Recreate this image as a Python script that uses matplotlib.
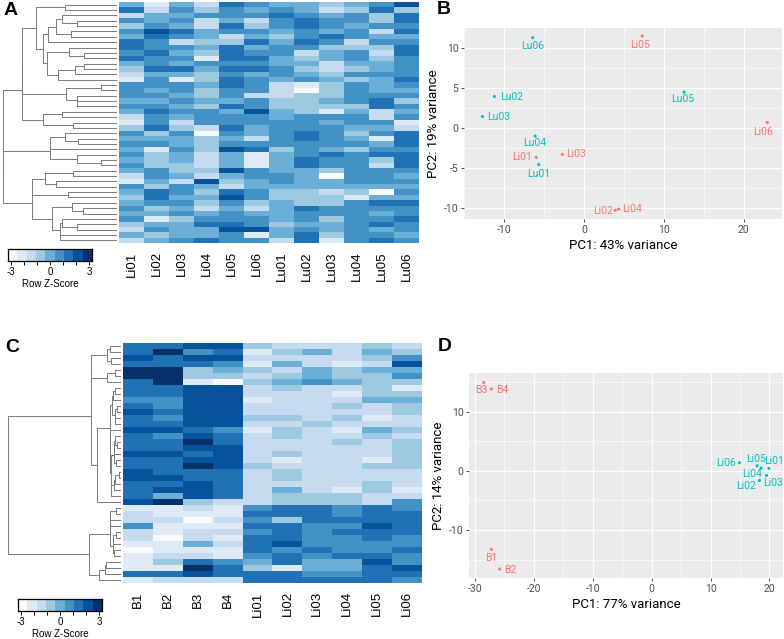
import numpy as np
import matplotlib.pyplot as plt
from matplotlib.colors import ListedColormap

plt.rcParams['axes.unicode_minus'] = False

W, H = 784, 639

blues = ['#F7FBFF', '#DEEBF7', '#C6DBEF', '#9ECAE1', '#6BAED6',
         '#4292C6', '#2171B5', '#08519C', '#08306B']

# heatmap A: one string per row, one digit per sample (0 = -3 ... 8 = +3)
a_samples = ['Li01', 'Li02', 'Li03', 'Li04', 'Li05', 'Li06',
             'Lu01', 'Lu02', 'Lu03', 'Lu04', 'Lu05', 'Lu06']
a_rows = [
    "414265443457", "625354542363", "244555654536", "545242565536",
    "354263565455", "576455454526", "465424356544", "652336465255",
    "655464553336", "564365524526", "655166434535", "454555442445",
    "366466532345", "244354543555", "151365454346", "555465213545",
    "545355203544", "554352233555", "445445334563", "554365333365",
    "465547431424", "254555455525", "152555554551", "363264555442",
    "535054565356", "444342565416", "554355555546", "415376354355",
    "534241456566", "434241465536", "533241465526", "453375443555",
    "254245540554", "142734544555", "535424444444", "465365332305",
    "364475333144", "455353433566", "534242465555", "445454455545",
    "513555453556", "344665344565", "254477454545", "434451463554",
    "245655261565",
]

# heatmap C
c_samples = ['B1', 'B2', 'B3', 'B4', 'Li01', 'Li02', 'Li03', 'Li04', 'Li05', 'Li06']
c_rows = [
    "6677322232", "6856134243", "7677222235", "6665142127", "8834324344",
    "8833234335", "6810345433", "6677232231", "6677222133", "5577122244",
    "6577222323", "7677222223", "6577332312", "6677223222", "7765132143",
    "6576232232", "6686222323", "6677222223", "7767232223", "6677212213",
    "6687322233", "7666232222", "7766232222", "6676222232", "6776242131",
    "6476233322", "7832233325", "1121566565", "2111666566", "2202536666",
    "5111665576", "2122565666", "2021665565", "1142675555", "0111656556",
    "1221565665", "1365464475", "1186314467", "6676665566", "1222666665",
]

# PCA B
b_labels = ['Li01', 'Li02', 'Li03', 'Li04', 'Li05', 'Li06',
            'Lu01', 'Lu02', 'Lu03', 'Lu04', 'Lu05', 'Lu06']
b_pc1 = [-5.96, 3.95, -2.7, 4.36, 7.3, 22.96, -5.64, -11.2, -12.7, -6.1, 12.55, -6.4]
b_pc2 = [-3.7, -10.3, -3.33, -10.16, 11.46, 0.67, -4.6, 3.9, 1.4, -1.04, 4.46, 11.25]
b_group = ['Li'] * 6 + ['Lu'] * 6

# PCA D
d_labels = ['B1', 'B2', 'B3', 'B4', 'Li01', 'Li02', 'Li03', 'Li04', 'Li05', 'Li06']
d_pc1 = [-27.2, -25.8, -28.5, -27.2, 19.9, 18.3, 19.5, 18.6, 17.9, 14.9]
d_pc2 = [-13.3, -16.6, 14.9, 13.8, 0.39, -1.64, -0.8, 0.45, 0.84, 1.35]
d_group = ['B'] * 4 + ['Li'] * 6

# label placement (pixels: right, down)
b_offsets = {
    'Li01': (-4.4, 0, 'right'), 'Li02': (-3, 1, 'right'), 'Li03': (4, 0, 'left'),
    'Li04': (3, 0, 'left'), 'Li05': (-2, 8.7, 'center'), 'Li06': (-4, 10, 'center'),
    'Lu01': (0, 9.3, 'center'), 'Lu02': (6, 0, 'left'), 'Lu03': (5, 0, 'left'),
    'Lu04': (0, 7.3, 'center'), 'Lu05': (-1, 7.3, 'center'), 'Lu06': (0, 8.3, 'center'),
}
d_offsets = {
    'B1': (0, 8, 'center'), 'B2': (4.3, 0.6, 'left'), 'B3': (-2, 7.7, 'center'),
    'B4': (4.3, 1, 'left'), 'Li01': (-4.5, -7, 'left'), 'Li02': (-13.3, 5.7, 'center'),
    'Li03': (-3, 7.3, 'left'), 'Li04': (-9.6, 6, 'center'), 'Li05': (-1.3, -6.7, 'center'),
    'Li06': (-3.3, 0, 'right'),
}

pal = {'Li': '#F8766D', 'Lu': '#00BFC4'}
pal_d = {'B': '#F8766D', 'Li': '#00BFC4'}

fig = plt.figure(figsize=(W / 100, H / 100), dpi=100)


def px_axes(x0, y0, x1, y1):
    return fig.add_axes([x0 / W, 1 - y1 / H, (x1 - x0) / W, (y1 - y0) / H])


def to_matrix(rows):
    return np.array([[int(ch) for ch in r] for r in rows], dtype=float)


def ward_contiguous(data):
    # ward clustering where only neighbouring rows/clusters may merge
    clusters = [([i], float(i), 0.0) for i in range(len(data))]
    segs = []
    while len(clusters) > 1:
        costs = []
        for a, b in zip(clusters[:-1], clusters[1:]):
            na, nb = len(a[0]), len(b[0])
            ca, cb = data[a[0]].mean(0), data[b[0]].mean(0)
            costs.append(np.sqrt(2 * na * nb / (na + nb) * ((ca - cb) ** 2).sum()))
        k = int(np.argmin(costs))
        a, b = clusters[k], clusters[k + 1]
        h = max(costs[k], a[2], b[2])
        segs.append(([a[2], h, h, b[2]], [a[1], a[1], b[1], b[1]]))
        clusters[k:k + 2] = [(a[0] + b[0], (a[1] + b[1]) / 2, h)]
    return segs, clusters[0][2]


def heat_panel(rows, samples, dend_box, heat_box, key_box):
    m = to_matrix(rows)
    n = len(m)
    z = (m - m.mean(1, keepdims=True))
    segs, top = ward_contiguous(z)

    ax_d = px_axes(*dend_box)
    for xs, ys in segs:
        ax_d.plot(xs, ys, color='#7a7a7a', lw=0.7, solid_capstyle='butt')
    ax_d.set_xlim(top * 1.01, 0)
    ax_d.set_ylim(n - 0.5, -0.5)
    ax_d.axis('off')

    ax_h = px_axes(*heat_box)
    ax_h.imshow(m, cmap=ListedColormap(blues), vmin=-0.5, vmax=8.5,
                aspect='auto', interpolation='nearest')
    ax_h.set_yticks([])
    ax_h.set_xticks(range(len(samples)))
    ax_h.set_xticklabels(samples, rotation=90, family='Liberation Sans', fontsize=9.5)
    ax_h.tick_params(axis='x', length=0, pad=6)
    for s in ax_h.spines.values():
        s.set_visible(False)

    ax_k = px_axes(*key_box)
    ax_k.imshow(np.arange(9).reshape(1, -1), cmap=ListedColormap(blues),
                aspect='auto', extent=(-3.2, 3.2, 0, 1), interpolation='nearest')
    ax_k.set_yticks([])
    ax_k.set_xticks(range(-3, 4))
    ax_k.set_xticklabels(['-3', '', '', '0', '', '', '3'],
                         family='Liberation Sans', fontsize=7)
    ax_k.tick_params(axis='x', length=3, width=0.7, pad=1)
    ax_k.set_xlabel('Row Z-Score', family='Liberation Sans', fontsize=7, labelpad=2)
    for s in ax_k.spines.values():
        s.set_linewidth(0.9)


def pca_panel(box, pc1, pc2, labels, groups, colors, offsets, xlim, ylim,
              xmaj, xmin, ymaj, ymin, xlab, ylab):
    ax = px_axes(*box)
    ax.set_facecolor('#EBEBEB')
    for s in ax.spines.values():
        s.set_visible(False)
    ax.set_xlim(*xlim)
    ax.set_ylim(*ylim)
    ax.set_xticks(xmaj)
    ax.set_xticks(xmin, minor=True)
    ax.set_yticks(ymaj)
    ax.set_yticks(ymin, minor=True)
    ax.grid(which='major', color='white', lw=0.9)
    ax.grid(which='minor', color='white', lw=0.45)
    ax.set_axisbelow(True)
    ax.tick_params(which='major', length=2, width=0.6, color='#333333',
                   labelcolor='#4D4D4D', labelsize=7.5, pad=2)
    ax.tick_params(which='minor', length=0)
    for lab in ax.get_xticklabels() + ax.get_yticklabels():
        lab.set_family('Roboto')
    ax.set_xlabel(xlab, family='Roboto', fontsize=9.5, labelpad=3)
    ax.set_ylabel(ylab, family='Roboto', fontsize=9.5, labelpad=3)
    cols = [colors[g] for g in groups]
    ax.scatter(pc1, pc2, s=5, c=cols, linewidths=0, zorder=3)
    for x, y, lab, c in zip(pc1, pc2, labels, cols):
        dx, dy, ha = offsets[lab]
        ax.annotate(lab, (x, y), xytext=(dx * 0.72, -dy * 0.72),
                    textcoords='offset points', ha=ha, va='center',
                    color=c, fontsize=7.5, family='Roboto')


heat_panel(a_rows, a_samples, (2, 2, 117, 243), (119, 2, 419, 243), (8, 249, 92, 261))
heat_panel(c_rows, c_samples, (7, 343, 121, 583), (123, 343, 422, 583), (18, 599, 102, 611))

pca_panel((464, 28, 782, 219), b_pc1, b_pc2, b_labels, b_group, pal, b_offsets,
          (-14.4, 24.8), (-11.4, 12.46), [-10, 0, 10, 20], [-15, -5, 5, 15],
          [-10, -5, 0, 5, 10], [-7.5, -2.5, 2.5, 7.5],
          'PC1: 43% variance', 'PC2: 19% variance')
pca_panel((469, 373, 783, 578), d_pc1, d_pc2, d_labels, d_group, pal_d, d_offsets,
          (-31.0, 22.3), (-18.1, 16.5), [-30, -20, -10, 0, 10, 20],
          [-25, -15, -5, 5, 15], [-10, 0, 10], [-15, -5, 5, 15],
          'PC1: 77% variance', 'PC2: 14% variance')

for letter, x, y in [('A', 4, 2), ('B', 437, 1), ('C', 5, 339), ('D', 438, 338)]:
    fig.text(x / W, 1 - y / H, letter, fontsize=14, fontweight='bold',
             family='Liberation Sans', va='top', ha='left')

fig.savefig('out.png', dpi=100)
